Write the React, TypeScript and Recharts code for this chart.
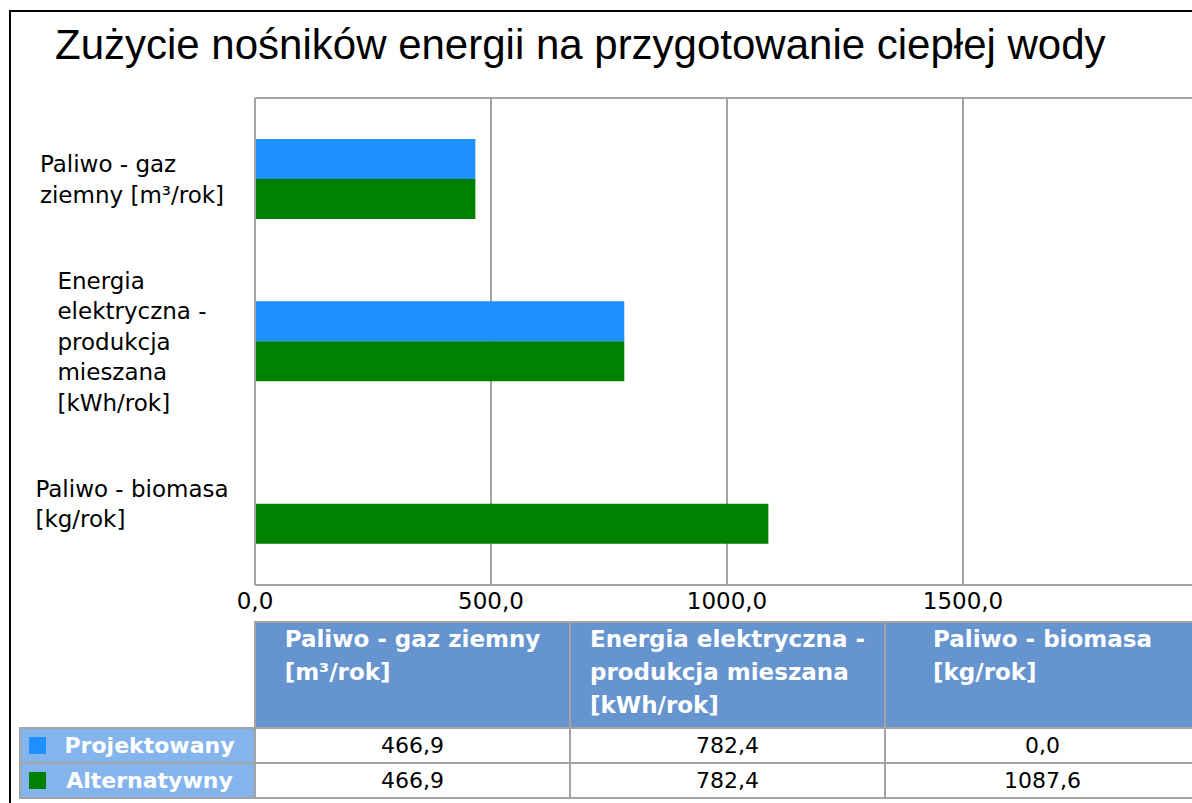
import React from "react";
import {
  BarChart,
  Bar,
  XAxis,
  YAxis,
  CartesianGrid,
} from "recharts";

const categories = [
  "Paliwo - gaz ziemny [m³/rok]",
  "Energia elektryczna - produkcja mieszana [kWh/rok]",
  "Paliwo - biomasa [kg/rok]",
];
const axisLabelLines = [
  ["Paliwo - gaz", "ziemny [m³/rok]"],
  ["Energia", "elektryczna -", "produkcja", "mieszana", "[kWh/rok]"],
  ["Paliwo - biomasa", "[kg/rok]"],
];
const headerLines = [
  ["Paliwo - gaz ziemny", "[m³/rok]"],
  ["Energia elektryczna -", "produkcja mieszana", "[kWh/rok]"],
  ["Paliwo - biomasa", "[kg/rok]"],
];
const projektowany = [466.9, 782.4, 0.0];
const alternatywny = [466.9, 782.4, 1087.6];
const seriesNames = ["Projektowany", "Alternatywny"];
const seriesColors = ["#1E90FF", "#008000"];
const xTicks = [0, 500, 1000, 1500];
const xMax = 2000;

const title = "Zużycie nośników energii na przygotowanie ciepłej wody";

const data = categories.map((name, i) => ({
  name,
  projektowany: projektowany[i],
  alternatywny: alternatywny[i],
}));

const FONT = "'DejaVu Sans', sans-serif";
const GRID = "#a3a3a3";
const fmt = (v: number) => v.toFixed(1).replace(".", ",");

let ctx: CanvasRenderingContext2D | null = null;
function textWidth(s: string, font: string) {
  if (!ctx) ctx = document.createElement("canvas").getContext("2d");
  if (!ctx) return s.length * 12;
  ctx.font = font;
  return ctx.measureText(s).width;
}

function CategoryTick(props: any) {
  const { x, y, payload } = props;
  const idx = categories.indexOf(payload.value);
  const lines = axisLabelLines[idx] || [payload.value];
  const maxW = Math.max(...lines.map((l) => textWidth(l, `23px ${FONT}`)));
  const left = x - 123 - maxW / 2;
  const pitch = 30.5;
  return (
    <text fill="#000" fontSize={23} fontFamily={FONT} textAnchor="start">
      {lines.map((l, i) => (
        <tspan
          key={i}
          x={left}
          y={y + (i - (lines.length - 1) / 2) * pitch}
          dy="0.36em"
        >
          {l}
        </tspan>
      ))}
    </text>
  );
}

const cell: React.CSSProperties = {
  border: `2px solid ${GRID}`,
  padding: 0,
};

export default function App() {
  const rows = [projektowany, alternatywny];
  return (
    <div
      style={{
        position: "fixed",
        inset: 0,
        overflow: "hidden",
        background: "#fff",
      }}
    >
      <div
        style={{
          position: "absolute",
          left: 9,
          top: 10,
          width: 1400,
          height: 1000,
          border: "2px solid #000",
          boxSizing: "border-box",
        }}
      />
      <div
        style={{
          position: "absolute",
          left: 55,
          top: 24,
          fontFamily: "'Liberation Sans', Arial, sans-serif",
          fontSize: 42,
          lineHeight: "42px",
          whiteSpace: "nowrap",
          color: "#000",
        }}
      >
        {title}
      </div>
      <div style={{ position: "absolute", left: 0, top: 0 }}>
        <BarChart
          width={1240}
          height={640}
          data={data}
          layout="vertical"
          margin={{ top: 98, right: 41, left: 0, bottom: 0 }}
          barGap={0}
          barSize={40}
        >
          <CartesianGrid
            stroke={GRID}
            strokeWidth={2}
            horizontalCoordinatesGenerator={({ offset }: any) => [
              offset.top,
              offset.top + offset.height,
            ]}
          />
          <XAxis
            type="number"
            domain={[0, xMax]}
            ticks={xTicks}
            tickFormatter={fmt}
            height={55}
            axisLine={{ stroke: GRID, strokeWidth: 2 }}
            tickLine={false}
            tickSize={0}
            tickMargin={8}
            tick={{ fill: "#000", fontSize: 23, fontFamily: FONT }}
          />
          <YAxis
            type="category"
            dataKey="name"
            width={255}
            axisLine={{ stroke: GRID, strokeWidth: 2 }}
            tickLine={false}
            tickSize={0}
            tickMargin={0}
            tick={<CategoryTick />}
            interval={0}
          />
          <Bar
            dataKey="projektowany"
            name={seriesNames[0]}
            fill={seriesColors[0]}
            isAnimationActive={false}
          />
          <Bar
            dataKey="alternatywny"
            name={seriesNames[1]}
            fill={seriesColors[1]}
            isAnimationActive={false}
          />
        </BarChart>
      </div>
      <table
        style={{
          position: "absolute",
          left: 19,
          top: 621,
          borderCollapse: "collapse",
          tableLayout: "fixed",
          width: 1180,
          fontFamily: FONT,
        }}
      >
        <colgroup>
          <col style={{ width: 235 }} />
          <col style={{ width: 315 }} />
          <col style={{ width: 315 }} />
          <col style={{ width: 315 }} />
        </colgroup>
        <tbody>
          <tr style={{ height: 106 }}>
            <td style={{ border: "none", background: "#fff" }} />
            {headerLines.map((lines, i) => (
              <td
                key={i}
                style={{
                  ...cell,
                  background: "#6594CF",
                  color: "#fff",
                  fontWeight: "bold",
                  fontSize: 23,
                  lineHeight: "33px",
                  verticalAlign: "top",
                  textAlign: "center",
                  paddingTop: 0,
                }}
              >
                <div style={{ display: "inline-block", textAlign: "left" }}>
                  {lines.map((l, j) => (
                    <div key={j} style={{ whiteSpace: "nowrap" }}>
                      {l}
                    </div>
                  ))}
                </div>
              </td>
            ))}
          </tr>
          {rows.map((vals, r) => (
            <tr key={r} style={{ height: 35 }}>
              <td
                style={{
                  ...cell,
                  background: "#84B4EC",
                  color: "#fff",
                  fontWeight: "bold",
                  fontSize: 22,
                  position: "relative",
                  textAlign: "center",
                  paddingLeft: 24,
                  whiteSpace: "nowrap",
                }}
              >
                <span
                  style={{
                    position: "absolute",
                    left: 8,
                    top: 8,
                    width: 17,
                    height: 17,
                    background: seriesColors[r],
                  }}
                />
                {seriesNames[r]}
              </td>
              {vals.map((v, i) => (
                <td
                  key={i}
                  style={{
                    ...cell,
                    background: "#fff",
                    color: "#000",
                    fontSize: 22,
                    textAlign: "center",
                  }}
                >
                  {fmt(v)}
                </td>
              ))}
            </tr>
          ))}
        </tbody>
      </table>
    </div>
  );
}
